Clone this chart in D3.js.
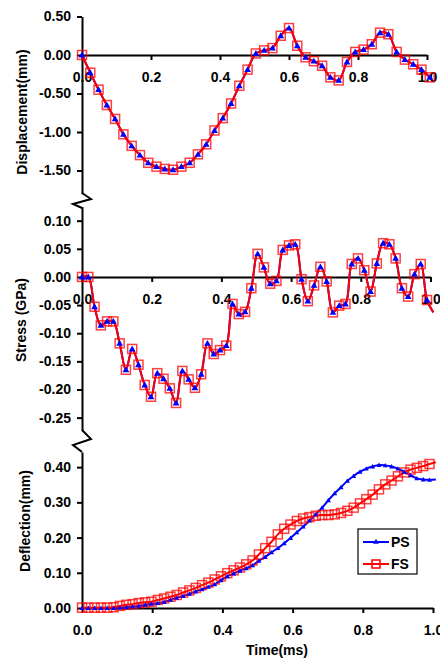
<!DOCTYPE html>
<html>
<head>
  <meta charset="utf-8">
  <title>PS vs FS: displacement, stress, deflection</title>
  <script src="https://d3js.org/d3.v7.min.js"></script>
  <style>
    body {
      background-color: white;
      margin: 0;
      padding: 0;
      overflow: hidden;
    }
    text {
      font-family: "Liberation Sans", Arial, sans-serif;
      font-weight: bold;
    }
  </style>
</head>
<body>
  <svg width="440" height="658"></svg>

  <script>
    // time samples (ms)
    const timeCoarse = [0, 0.024, 0.048, 0.072, 0.096, 0.12, 0.144, 0.168, 0.192, 0.216,
      0.24, 0.264, 0.288, 0.312, 0.336, 0.36, 0.384, 0.408, 0.432, 0.456, 0.48, 0.504,
      0.528, 0.552, 0.576, 0.6, 0.624, 0.648, 0.672, 0.696, 0.72, 0.744, 0.768, 0.792,
      0.816, 0.84, 0.864, 0.888, 0.912, 0.936, 0.96, 0.984, 1.008];
    const timeFine = [0, 0.018, 0.036, 0.054, 0.072, 0.09, 0.108, 0.126, 0.144, 0.162,
      0.18, 0.198, 0.216, 0.234, 0.252, 0.27, 0.288, 0.306, 0.324, 0.342, 0.36, 0.378,
      0.396, 0.414, 0.432, 0.45, 0.468, 0.486, 0.504, 0.522, 0.54, 0.558, 0.576, 0.594,
      0.612, 0.63, 0.648, 0.666, 0.684, 0.702, 0.72, 0.738, 0.756, 0.774, 0.792, 0.81,
      0.828, 0.846, 0.864, 0.882, 0.9, 0.918, 0.936, 0.954, 0.972, 0.99, 1.008];

    // displacement (mm)
    const dispPS = [0.00, -0.23, -0.45, -0.65, -0.83, -1.03, -1.18, -1.30, -1.40, -1.45,
      -1.48, -1.49, -1.45, -1.40, -1.29, -1.16, -0.98, -0.82, -0.63, -0.40, -0.19, 0.02,
      0.06, 0.09, 0.25, 0.35, 0.12, -0.03, -0.08, -0.14, -0.29, -0.33, -0.09, 0.04, 0.07,
      0.14, 0.29, 0.27, 0.04, -0.06, -0.12, -0.19, -0.29];
    const dispFS = [0.00, -0.23, -0.45, -0.65, -0.83, -1.03, -1.18, -1.30, -1.40, -1.45,
      -1.48, -1.49, -1.45, -1.40, -1.29, -1.16, -0.98, -0.82, -0.63, -0.40, -0.19, 0.02,
      0.06, 0.09, 0.25, 0.35, 0.12, -0.03, -0.08, -0.14, -0.29, -0.33, -0.09, 0.04, 0.07,
      0.14, 0.29, 0.27, 0.04, -0.06, -0.12, -0.19, -0.29];

    // stress (GPa)
    const stressPS = [0.000, 0.000, -0.053, -0.086, -0.079, -0.079, -0.118, -0.165, -0.128,
      -0.156, -0.192, -0.213, -0.171, -0.181, -0.198, -0.224, -0.167, -0.182, -0.197,
      -0.173, -0.118, -0.137, -0.130, -0.122, -0.048, -0.066, -0.062, -0.020, 0.041, 0.017,
      -0.012, -0.007, 0.048, 0.056, 0.058, -0.004, -0.043, -0.015, 0.018, -0.008, -0.063,
      -0.051, -0.048, 0.023, 0.033, 0.012, -0.026, 0.024, 0.060, 0.058, 0.033, -0.020,
      -0.035, 0.005, 0.023, -0.041, -0.063];
    const stressFS = [0.000, 0.000, -0.053, -0.086, -0.079, -0.079, -0.118, -0.165, -0.128,
      -0.156, -0.192, -0.213, -0.171, -0.181, -0.198, -0.224, -0.167, -0.182, -0.197,
      -0.173, -0.118, -0.137, -0.130, -0.122, -0.048, -0.066, -0.062, -0.020, 0.041, 0.017,
      -0.012, -0.007, 0.048, 0.056, 0.058, -0.004, -0.043, -0.015, 0.018, -0.008, -0.063,
      -0.051, -0.048, 0.023, 0.033, 0.012, -0.026, 0.024, 0.060, 0.058, 0.033, -0.020,
      -0.035, 0.005, 0.023, -0.041, -0.063];

    // deflection (mm)
    const deflPS = [0.000, 0.000, 0.000, 0.000, 0.000, 0.000, 0.001, 0.002, 0.004, 0.006,
      0.009, 0.012, 0.014, 0.017, 0.023, 0.029, 0.034, 0.040, 0.047, 0.053, 0.060, 0.067,
      0.079, 0.090, 0.098, 0.106, 0.113, 0.121, 0.134, 0.145, 0.158, 0.170, 0.184, 0.199,
      0.215, 0.231, 0.248, 0.266, 0.285, 0.306, 0.326, 0.343, 0.361, 0.375, 0.387, 0.396,
      0.402, 0.406, 0.405, 0.402, 0.396, 0.387, 0.377, 0.368, 0.365, 0.364, 0.365];
    const deflFS = [0.001, 0.001, 0.001, 0.001, 0.001, 0.002, 0.006, 0.009, 0.011, 0.014,
      0.016, 0.018, 0.023, 0.027, 0.032, 0.037, 0.044, 0.050, 0.057, 0.065, 0.072, 0.081,
      0.090, 0.099, 0.107, 0.115, 0.124, 0.135, 0.152, 0.170, 0.188, 0.209, 0.225, 0.237,
      0.247, 0.254, 0.258, 0.262, 0.264, 0.264, 0.266, 0.270, 0.276, 0.285, 0.297, 0.309,
      0.322, 0.337, 0.351, 0.362, 0.374, 0.385, 0.393, 0.398, 0.403, 0.409, 0.414];

    const xTicks = [0, 0.2, 0.4, 0.6, 0.8, 1.0];
    const dispTicks = [0.5, 0, -0.5, -1.0, -1.5];
    const stressTicks = [0.10, 0.05, 0, -0.05, -0.10, -0.15, -0.20, -0.25];
    const deflTicks = [0, 0.1, 0.2, 0.3, 0.4];

    const svg = d3.select("svg");
    const blue = "#0000ff", red = "#ff0000";
    // plain hyphen for negatives, as in the original
    const fmt2 = v => d3.format(".2f")(v).replace("\u2212", "-");

    function drawPanel(p) {
      const x = d3.scaleLinear().domain([0, 1]).range([82, p.xEnd]);
      const y = d3.scaleLinear().domain(p.yDomain).range(p.yRange);
      const g = svg.append("g");

      // x axis sits at value 0
      const xa = g.append("g")
          .attr("transform", "translate(0," + y(0) + ")")
          .call(d3.axisBottom(x).tickValues(xTicks).tickFormat(d3.format(".1f"))
            .tickSize(5).tickSizeOuter(0).tickPadding(12));
      const ya = g.append("g")
          .attr("transform", "translate(82,0)")
          .call(d3.axisLeft(y).tickValues(p.yTicks).tickFormat(fmt2)
            .tickSize(5).tickSizeOuter(0).tickPadding(6));
      [xa, ya].forEach(a => {
        a.select(".domain").attr("stroke", "black").attr("stroke-width", 2);
        a.selectAll(".tick line").attr("stroke", "black").attr("stroke-width", 2);
        a.selectAll(".tick text").attr("fill", "black")
          .attr("font-family", "Liberation Sans, Arial").attr("font-weight", "bold")
          .attr("font-size", "14px");
      });

      const line = d3.line()
          .x((d, i) => x(p.time[i]))
          .y(d => y(d))
          .curve(d3.curveCatmullRom);

      g.append("path").attr("d", line(p.ps)).attr("fill", "none")
          .attr("stroke", blue).attr("stroke-width", 2);
      g.append("path").attr("d", line(p.fs)).attr("fill", "none")
          .attr("stroke", red).attr("stroke-width", 2);

      const n = p.markLast ? p.fs.length : p.fs.length - 1;
      g.selectAll(".sq")
        .data(p.fs.slice(0, n))
        .enter().append("rect")
          .attr("x", (d, i) => x(p.time[i]) - p.sq / 2)
          .attr("y", d => y(d) - p.sq / 2)
          .attr("width", p.sq)
          .attr("height", p.sq)
          .attr("fill", "none")
          .attr("stroke", red)
          .attr("stroke-opacity", 0.75)
          .attr("stroke-width", 1.5);

      g.selectAll(".tri")
        .data(p.ps.slice(0, n))
        .enter().append("path")
          .attr("transform", (d, i) => "translate(" + x(p.time[i]) + "," + (y(d) + 0.5) + ")")
          .attr("d", d3.symbol(d3.symbolTriangle, p.tri))
          .attr("fill", blue);
    }

    drawPanel({ time: timeCoarse, ps: dispPS, fs: dispFS, xEnd: 427,
      yDomain: [-1.8, 0.5], yRange: [193.6, 16.5], yTicks: dispTicks, sq: 9, tri: 20, markLast: true });
    drawPanel({ time: timeFine, ps: stressPS, fs: stressFS, xEnd: 430.5,
      yDomain: [-0.272, 0.125], yRange: [430, 206.6], yTicks: stressTicks, sq: 9, tri: 20, markLast: false });
    drawPanel({ time: timeFine, ps: deflPS, fs: deflFS, xEnd: 433,
      yDomain: [0, 0.443], yRange: [608, 452], yTicks: deflTicks, sq: 9, tri: 11, markLast: false });

    // axis break marks between panels
    svg.append("path").attr("d", "M82,193 L91,199 L73,204 L82,208")
        .attr("fill", "none").attr("stroke", "black").attr("stroke-width", 2);
    svg.append("path").attr("d", "M82,430 L91,439 L73,445 L82,452")
        .attr("fill", "none").attr("stroke", "black").attr("stroke-width", 2);

    // axis titles
    const titles = [
      { t: "Displacement(mm)", x: 27, y: 112 },
      { t: "Stress (GPa)", x: 26, y: 320 },
      { t: "Deflection(mm)", x: 30, y: 521 }
    ];
    svg.selectAll(".ytitle")
      .data(titles)
      .enter().append("text")
        .attr("transform", d => "translate(" + d.x + "," + d.y + ") rotate(-90)")
        .attr("text-anchor", "middle")
        .attr("font-size", "14px")
        .text(d => d.t);

    svg.append("text")
      .attr("x", 277)
      .attr("y", 655)
      .attr("text-anchor", "middle")
      .attr("font-size", "14px")
      .text("Time(ms)");

    // legend
    const lg = svg.append("g");
    lg.append("rect").attr("x", 358).attr("y", 529).attr("width", 59).attr("height", 45)
        .attr("fill", "white").attr("stroke", "black").attr("stroke-width", 1.2);
    lg.append("line").attr("x1", 363).attr("x2", 389).attr("y1", 542).attr("y2", 542)
        .attr("stroke", blue).attr("stroke-width", 2);
    lg.append("path").attr("transform", "translate(376,542)")
        .attr("d", d3.symbol(d3.symbolTriangle, 14)).attr("fill", blue);
    lg.append("text").attr("x", 391).attr("y", 547).attr("font-size", "14px").text("PS");
    lg.append("line").attr("x1", 363).attr("x2", 389).attr("y1", 564).attr("y2", 564)
        .attr("stroke", red).attr("stroke-width", 2);
    lg.append("rect").attr("x", 372).attr("y", 560).attr("width", 8).attr("height", 8)
        .attr("fill", "none").attr("stroke", red).attr("stroke-width", 1.5);
    lg.append("text").attr("x", 391).attr("y", 569).attr("font-size", "14px").text("FS");
  </script>
</body>
</html>
